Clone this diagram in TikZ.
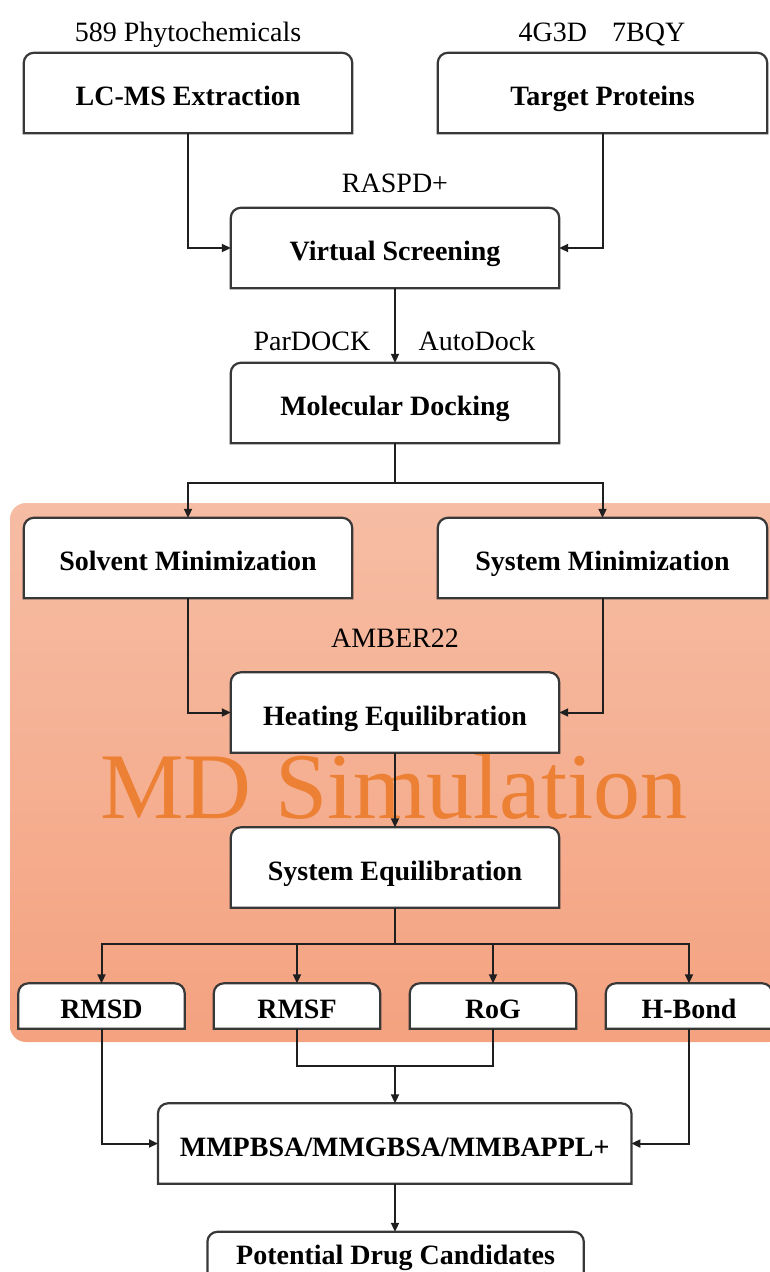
\documentclass[tikz,border=0pt]{standalone}
\usepackage{fontspec}
\setmainfont{Liberation Serif}
\usetikzlibrary{arrows.meta,calc}
\pgfdeclarelayer{back}
\pgfdeclarelayer{mid}
\pgfsetlayers{back,mid,main}
\definecolor{regtop}{RGB}{246,189,164}
\definecolor{regbot}{RGB}{244,162,128}
\definecolor{mdorange}{RGB}{236,128,52}
\newcommand\topbox[1]{%
  \draw[boxline] (#1.south west) -- ([yshift=-10pt]#1.north west)
    arc[start angle=180,end angle=90,radius=10pt]
    -- ([xshift=-10pt]#1.north east)
    arc[start angle=90,end angle=0,radius=10pt]
    -- (#1.south east) -- cycle;}
\begin{document}
\begin{tikzpicture}[x=1pt,y=1pt,
  lab/.style={inner sep=0pt, font=\fontsize{28}{32}\selectfont\bfseries,
    text height=30pt, text depth=5pt, minimum height=80pt},
  small/.style={lab, minimum height=45pt, minimum width=166pt},
  note/.style={inner sep=0pt, anchor=base, font=\fontsize{28}{32}\selectfont},
  boxline/.style={draw=black!78, fill=white, line width=2.2pt},
  conn/.style={draw=black!88, line width=2pt},
  arr/.style={conn, -{Triangle[length=9pt,width=8pt]}},
]
\path[use as bounding box] (0,0) rectangle (769,-1272);

% nodes
\node[lab, minimum width=328pt] (lcms) at (188,-93) {LC-MS Extraction};
\node[lab, minimum width=329pt] (target) at (602.5,-93) {Target Proteins};
\node[lab, minimum width=328pt] (vs) at (395,-248) {Virtual Screening};
\node[lab, minimum width=328pt] (md) at (395,-403) {Molecular Docking};
\node[lab, minimum width=328pt] (solv) at (188,-558) {Solvent Minimization};
\node[lab, minimum width=329pt] (sysmin) at (602.5,-558) {System Minimization};
\node[lab, minimum width=328pt] (heat) at (395,-712.5) {Heating Equilibration};
\node[lab, minimum width=328pt] (syseq) at (395,-867.5) {System Equilibration};
\node[small] (rmsd) at (101.5,-1006) {RMSD};
\node[small] (rmsf) at (297,-1006) {RMSF};
\node[small] (rog) at (493,-1006) {RoG};
\node[small] (hbond) at (689,-1006) {H-Bond};
\node[lab, minimum width=473pt, minimum height=80pt] (mm) at (394.7,-1143.5) {MMPBSA/MMGBSA/MMBAPPL+};
\node[lab, minimum width=376pt, minimum height=40pt] (pdc) at (395.6,-1252) {Potential Drug Candidates};

% annotations
\node[note] (t1) at (188,-41) {589 Phytochemicals};
\node[note] (t2) at (602,-41) {4G3D\hspace{0.9em}7BQY};
\node[note] (t3) at (395,-192) {RASPD+};
\node[note] (t4) at (312,-350) {ParDOCK};
\node[note] (t5) at (477,-350) {AutoDock};
\node[note] (t6) at (395,-647) {AMBER22};

% background region and title
\begin{pgfonlayer}{back}
  \shade[rounded corners=16pt, top color=regtop, bottom color=regbot]
    (10,-503) rectangle (785,-1042);
  \node[inner sep=0pt, anchor=base, text=mdorange,
    font=\fontsize{94}{100}\selectfont] (mdsim) at (394,-818) {MD Simulation};
\end{pgfonlayer}

% box outlines
\begin{pgfonlayer}{mid}
  \foreach \n in {lcms,target,vs,md,solv,sysmin,heat,syseq,rmsd,rmsf,rog,hbond,mm}
    {\topbox{\n}}
  \draw[boxline] (pdc.south west) -- ([yshift=-10pt]pdc.north west)
    arc[start angle=180,end angle=90,radius=10pt]
    -- ([xshift=-10pt]pdc.north east)
    arc[start angle=90,end angle=0,radius=10pt]
    -- ([yshift=-30pt]pdc.south east) -- ([yshift=-30pt]pdc.south west) -- cycle;
\end{pgfonlayer}

% connectors
\draw[arr] (lcms.south) |- (vs.west);
\draw[arr] (target.south) |- (vs.east);
\draw[arr] (vs.south) -- (md.north);
\coordinate (b1) at (395,-483);
\draw[conn] (md.south) -- (b1);
\draw[arr] (b1) -| (solv.north);
\draw[arr] (b1) -| (sysmin.north);
\draw[arr] (solv.south) |- (heat.west);
\draw[arr] (sysmin.south) |- (heat.east);
\draw[arr] (heat.south) -- (syseq.north);
\coordinate (b2) at (395,-944);
\draw[conn] (syseq.south) -- (b2);
\draw[arr] (b2) -| (rmsd.north);
\draw[arr] (b2) -| (rmsf.north);
\draw[arr] (b2) -| (rog.north);
\draw[arr] (b2) -| (hbond.north);
\coordinate (j) at (395,-1066);
\draw[conn] (rmsf.south) |- (j) -| (rog.south);
\draw[arr] (j) -- (j |- mm.north);
\draw[arr] (rmsd.south) |- (mm.west);
\draw[arr] (hbond.south) |- (mm.east);
\draw[arr] (mm.south -| j) -- (pdc.north -| j);
\end{tikzpicture}
\end{document}
